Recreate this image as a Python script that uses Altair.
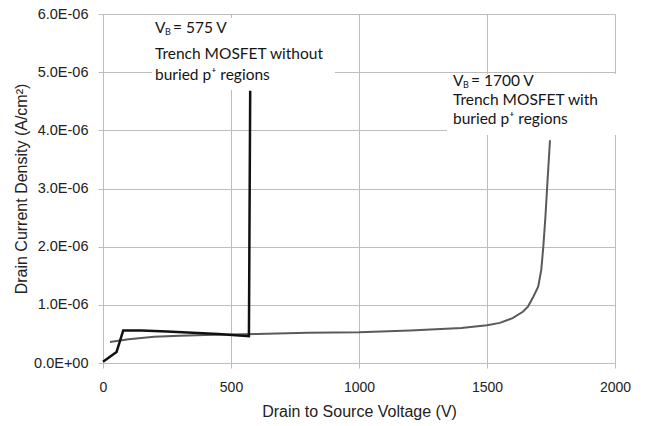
import altair as alt
import pandas as pd

# Trench MOSFET without buried p+ regions (VB = 575 V)
v_no = [0, 53, 79, 150, 250, 350, 450, 570, 575]
j_no = [0.02, 0.19, 0.56, 0.56, 0.54, 0.52, 0.50, 0.46, 4.68]

# Trench MOSFET with buried p+ regions (VB = 1700 V)
v_with = [27, 100, 200, 300, 400, 500, 600, 800, 1000, 1200, 1300, 1400, 1500,
          1550, 1600, 1640, 1660, 1680, 1700, 1712, 1720, 1728, 1736, 1746]
j_with = [0.36, 0.41, 0.45, 0.47, 0.48, 0.49, 0.50, 0.52, 0.53, 0.56, 0.58, 0.60, 0.65,
          0.69, 0.77, 0.88, 0.97, 1.13, 1.31, 1.60, 2.00, 2.50, 3.10, 3.83]

x_ticks = [0, 500, 1000, 1500, 2000]
y_ticks = [0, 1e-6, 2e-6, 3e-6, 4e-6, 5e-6, 6e-6]

df_no = pd.DataFrame({"V": v_no, "J": [j * 1e-6 for j in j_no], "i": range(len(v_no))})
df_with = pd.DataFrame({"V": v_with, "J": [j * 1e-6 for j in j_with], "i": range(len(v_with))})

AX_FONT = "Liberation Sans"
TXT_FONT = "Lato"

x_enc = alt.X("V:Q", scale=alt.Scale(domain=[0, 2000], nice=False),
              axis=alt.Axis(values=x_ticks, format="d", title="Drain to Source Voltage (V)",
                            labelFont=AX_FONT, labelFontSize=14, labelColor="#222",
                            titleFont=AX_FONT, titleFontSize=16, titleColor="#222",
                            titleFontWeight="normal", titlePadding=9,
                            tickSize=5, labelPadding=12, gridColor="#bdbdbd",
                            domainColor="#bdbdbd", tickColor="#bdbdbd", labelFlush=False))
y_enc = alt.Y("J:Q", scale=alt.Scale(domain=[0, 6e-6], nice=False),
              axis=alt.Axis(values=y_ticks, title="Drain Current Density (A/cm²)",
                            labelExpr="datum.value == 0 ? '0.0E+00' : format(datum.value * 1e6, '.1f') + 'E-06'",
                            labelFont=AX_FONT, labelFontSize=14.5, labelColor="#222",
                            titleFont=AX_FONT, titleFontSize=16, titleColor="#222",
                            titleFontWeight="normal", titlePadding=4,
                            tickSize=5, labelPadding=10, gridColor="#bdbdbd",
                            domainColor="#bdbdbd", tickColor="#bdbdbd", labelFlush=False))

line_with = alt.Chart(df_with).mark_line(color="#5a5a5a", strokeWidth=2).encode(
    x=x_enc, y=y_enc, order="i:Q")
line_no = alt.Chart(df_no).mark_line(color="#111111", strokeWidth=2.5).encode(
    x="V:Q", y="J:Q", order="i:Q")

dummy = alt.Data(values=[{"a": 1}])

def box(x1, x2, y1, y2):
    return alt.Chart(dummy).mark_rect(color="white").encode(
        x=alt.value(x1), x2=alt.value(x2), y=alt.value(y1), y2=alt.value(y2))

def txt(t, x, y, size=15.5):
    return alt.Chart(dummy).mark_text(text=t, font=TXT_FONT, fontSize=size, color="#151515",
                                      align="left", baseline="middle").encode(
        x=alt.value(x), y=alt.value(y))

# annotation boxes (pixel positions relative to plot area)
ann = [
    box(49, 232, 4, 76),
    box(344, 513, 60, 121),
    txt("V", 52, 14), txt("B", 62, 18, 9), txt("= 575 V", 70, 14),
    txt("Trench MOSFET without", 52, 40),
    txt("buried p⁺ regions", 52, 61),
    txt("V", 350, 67), txt("B", 360, 71, 9), txt("= 1700 V", 368, 67),
    txt("Trench MOSFET with", 350, 86),
    txt("buried p⁺ regions", 350, 105),
]

chart = alt.layer(line_with, *ann, line_no).properties(
    width=512, height=349,
    autosize=alt.AutoSizeParams(type="none"),
    padding={"left": 103, "top": 14, "right": 31, "bottom": 63},
    background="white",
).configure(font=AX_FONT).configure_view(stroke=None)

chart.save("out.html", embed_options={"renderer": "svg", "actions": False})
